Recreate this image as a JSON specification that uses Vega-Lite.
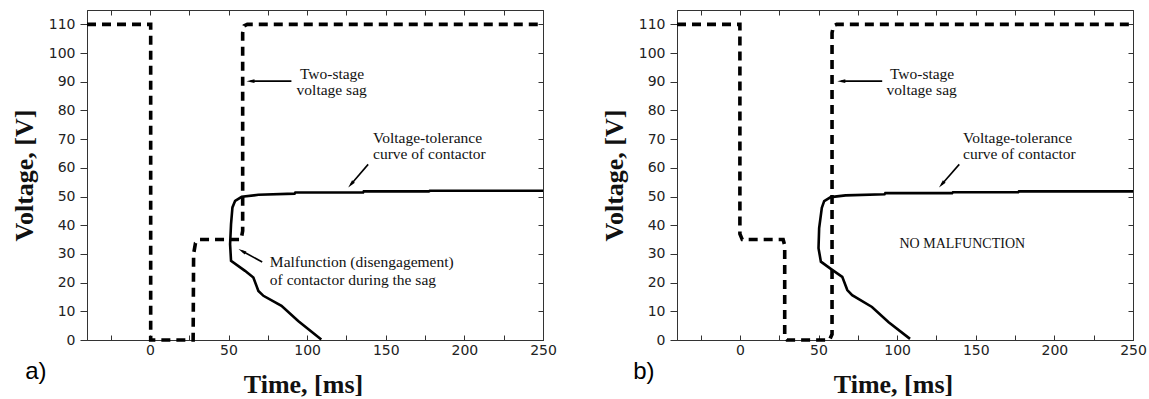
{
  "$schema": "https://vega.github.io/schema/vega-lite/v6.json",
  "background": "white",
  "padding": {"left": 10, "top": 9, "right": 5, "bottom": 0},
  "spacing": 43,
  "config": {
    "view": {"stroke": "#333", "strokeWidth": 1},
    "axis": {
      "grid": false,
      "domainColor": "#333",
      "tickColor": "#333",
      "labelFont": "DejaVu Sans",
      "labelFontSize": 14,
      "labelColor": "#222",
      "labelFlush": false,
      "titleFont": "Liberation Serif",
      "titleFontSize": 26,
      "titleFontWeight": "bold",
      "titleColor": "#111"
    }
  },
  "datasets": {
    "curves": [
      {"panel": "a", "series": "sag", "i": 1, "t": -40, "v": 110},
      {"panel": "a", "series": "sag", "i": 2, "t": 0.5, "v": 110},
      {"panel": "a", "series": "sag", "i": 3, "t": 0.5, "v": 0},
      {"panel": "a", "series": "sag", "i": 4, "t": 27.5, "v": 0},
      {"panel": "a", "series": "sag", "i": 5, "t": 27.8, "v": 30},
      {"panel": "a", "series": "sag", "i": 6, "t": 29, "v": 33.8},
      {"panel": "a", "series": "sag", "i": 7, "t": 31, "v": 35},
      {"panel": "a", "series": "sag", "i": 8, "t": 58, "v": 35},
      {"panel": "a", "series": "sag", "i": 9, "t": 59, "v": 38},
      {"panel": "a", "series": "sag", "i": 10, "t": 59, "v": 107},
      {"panel": "a", "series": "sag", "i": 11, "t": 60, "v": 109.5},
      {"panel": "a", "series": "sag", "i": 12, "t": 62, "v": 110},
      {"panel": "a", "series": "sag", "i": 13, "t": 250, "v": 110},
      {"panel": "a", "series": "tol", "i": 1, "t": 109, "v": 0.2},
      {"panel": "a", "series": "tol", "i": 2, "t": 94.3, "v": 6.6},
      {"panel": "a", "series": "tol", "i": 3, "t": 83.7, "v": 11.9},
      {"panel": "a", "series": "tol", "i": 4, "t": 72.2, "v": 15.4},
      {"panel": "a", "series": "tol", "i": 5, "t": 69, "v": 17.1},
      {"panel": "a", "series": "tol", "i": 6, "t": 65.8, "v": 21.8},
      {"panel": "a", "series": "tol", "i": 7, "t": 60.5, "v": 24.1},
      {"panel": "a", "series": "tol", "i": 8, "t": 51.6, "v": 27.6},
      {"panel": "a", "series": "tol", "i": 9, "t": 51, "v": 33.4},
      {"panel": "a", "series": "tol", "i": 10, "t": 51.6, "v": 40.4},
      {"panel": "a", "series": "tol", "i": 11, "t": 52.5, "v": 46.2},
      {"panel": "a", "series": "tol", "i": 12, "t": 54.2, "v": 48.5},
      {"panel": "a", "series": "tol", "i": 13, "t": 58.4, "v": 49.9},
      {"panel": "a", "series": "tol", "i": 14, "t": 69, "v": 50.6},
      {"panel": "a", "series": "tol", "i": 15, "t": 92, "v": 51},
      {"panel": "a", "series": "tol", "i": 16, "t": 92.5, "v": 51.4},
      {"panel": "a", "series": "tol", "i": 17, "t": 135.6, "v": 51.4},
      {"panel": "a", "series": "tol", "i": 18, "t": 136, "v": 51.8},
      {"panel": "a", "series": "tol", "i": 19, "t": 177.4, "v": 51.8},
      {"panel": "a", "series": "tol", "i": 20, "t": 178, "v": 52},
      {"panel": "a", "series": "tol", "i": 21, "t": 250, "v": 52},
      {"panel": "b", "series": "sag", "i": 1, "t": -40, "v": 110},
      {"panel": "b", "series": "sag", "i": 2, "t": 0, "v": 110},
      {"panel": "b", "series": "sag", "i": 3, "t": 0, "v": 37},
      {"panel": "b", "series": "sag", "i": 4, "t": 1.5, "v": 35},
      {"panel": "b", "series": "sag", "i": 5, "t": 27.5, "v": 35},
      {"panel": "b", "series": "sag", "i": 6, "t": 28.5, "v": 33},
      {"panel": "b", "series": "sag", "i": 7, "t": 28.5, "v": 1},
      {"panel": "b", "series": "sag", "i": 8, "t": 30, "v": 0},
      {"panel": "b", "series": "sag", "i": 9, "t": 57, "v": 0},
      {"panel": "b", "series": "sag", "i": 10, "t": 58.6, "v": 2},
      {"panel": "b", "series": "sag", "i": 11, "t": 58.6, "v": 107},
      {"panel": "b", "series": "sag", "i": 12, "t": 59.5, "v": 109.5},
      {"panel": "b", "series": "sag", "i": 13, "t": 61.5, "v": 110},
      {"panel": "b", "series": "sag", "i": 14, "t": 250, "v": 110},
      {"panel": "b", "series": "tol", "i": 1, "t": 108.2, "v": 0.4},
      {"panel": "b", "series": "tol", "i": 2, "t": 94.6, "v": 6.2},
      {"panel": "b", "series": "tol", "i": 3, "t": 84, "v": 11.5},
      {"panel": "b", "series": "tol", "i": 4, "t": 71.4, "v": 15.6},
      {"panel": "b", "series": "tol", "i": 5, "t": 68.3, "v": 17.4},
      {"panel": "b", "series": "tol", "i": 6, "t": 65.1, "v": 22},
      {"panel": "b", "series": "tol", "i": 7, "t": 57.8, "v": 24.8},
      {"panel": "b", "series": "tol", "i": 8, "t": 51.5, "v": 27.3},
      {"panel": "b", "series": "tol", "i": 9, "t": 50, "v": 32},
      {"panel": "b", "series": "tol", "i": 10, "t": 50.4, "v": 39},
      {"panel": "b", "series": "tol", "i": 11, "t": 52.1, "v": 46.1},
      {"panel": "b", "series": "tol", "i": 12, "t": 53.6, "v": 48.4},
      {"panel": "b", "series": "tol", "i": 13, "t": 57.8, "v": 49.8},
      {"panel": "b", "series": "tol", "i": 14, "t": 67.2, "v": 50.4},
      {"panel": "b", "series": "tol", "i": 15, "t": 92, "v": 50.8},
      {"panel": "b", "series": "tol", "i": 16, "t": 92.5, "v": 51.2},
      {"panel": "b", "series": "tol", "i": 17, "t": 135, "v": 51.2},
      {"panel": "b", "series": "tol", "i": 18, "t": 135.5, "v": 51.5},
      {"panel": "b", "series": "tol", "i": 19, "t": 177, "v": 51.5},
      {"panel": "b", "series": "tol", "i": 20, "t": 177.5, "v": 51.8},
      {"panel": "b", "series": "tol", "i": 21, "t": 250, "v": 51.8}
    ],
    "arrows": [
      {"panel": "a", "id": "sag", "t": 90, "v": 90.2, "t2": 64, "v2": 90.2},
      {"panel": "a", "id": "tol", "t": 138.8, "v": 61.2, "t2": 127.8, "v2": 54.2},
      {"panel": "a", "id": "mal", "t": 71.4, "v": 27.2, "t2": 58.6, "v2": 31},
      {"panel": "b", "id": "sag", "t": 90.5, "v": 90.2, "t2": 64.5, "v2": 90.2},
      {"panel": "b", "id": "tol", "t": 139.5, "v": 61.2, "t2": 128.3, "v2": 54.2}
    ],
    "notes": [
      {"panel": "a", "t": 95.4, "v": 92.6, "label": "Two-stage"},
      {"panel": "a", "t": 93.3, "v": 87.0, "label": "voltage sag"},
      {"panel": "a", "t": 141.9, "v": 70.4, "label": "Voltage-tolerance"},
      {"panel": "a", "t": 141.9, "v": 64.8, "label": "curve of contactor"},
      {"panel": "a", "t": 76.3, "v": 27.2, "label": "Malfunction (disengagement)"},
      {"panel": "a", "t": 76.3, "v": 20.8, "label": "of contactor during the sag"},
      {"panel": "b", "t": 95.4, "v": 92.6, "label": "Two-stage"},
      {"panel": "b", "t": 93.3, "v": 87.0, "label": "voltage sag"},
      {"panel": "b", "t": 141.9, "v": 70.4, "label": "Voltage-tolerance"},
      {"panel": "b", "t": 141.9, "v": 64.8, "label": "curve of contactor"}
    ],
    "caps": [
      {"panel": "b", "t": 101.5, "v": 33.3, "label": "NO MALFUNCTION"}
    ],
    "tags": [
      {"panel": "a", "t": -79.3, "v": -11.1, "label": "a)"},
      {"panel": "b", "t": -67.9, "v": -11.1, "label": "b)"}
    ]
  },
  "hconcat": [
    {
      "width": 456,
      "height": 330,
      "resolve": {"axis": {"x": "independent", "y": "independent"}},
      "layer": [
        {
          "data": {"name": "curves"},
          "transform": [{"filter": "datum.panel == 'a' && datum.series == 'tol'"}],
          "mark": {"type": "line", "color": "#000", "strokeWidth": 2.6},
          "encoding": {
            "x": {"field": "t", "type": "quantitative", "scale": {"domain": [-40, 250], "nice": false, "zero": false},
              "axis": {"orient": "bottom", "values": [-25, 0, 25, 50, 75, 100, 125, 150, 175, 200, 225, 250], "labelExpr": "datum.value % 50 == 0 ? datum.label : ''", "tickSize": -5, "labelPadding": 8, "title": "Time, [ms]", "titleX": 216, "titleY": 44, "titleBaseline": "middle", "titleAlign": "center"}},
            "y": {"field": "v", "type": "quantitative", "scale": {"domain": [0, 115], "nice": false},
              "axis": {"orient": "left", "values": [0, 10, 20, 30, 40, 50, 60, 70, 80, 90, 100, 110], "tickSize": 7, "labelPadding": 5, "title": "Voltage, [V]", "titleX": -63, "titleY": 165, "titleAngle": -90, "titleBaseline": "middle", "titleAlign": "center"}},
            "order": {"field": "i", "type": "quantitative"}
          }
        },
        {
          "data": {"name": "curves"},
          "transform": [{"filter": "datum.panel == 'a' && datum.series == 'sag'"}],
          "mark": {"type": "line", "color": "#000", "strokeWidth": 3.6, "strokeDash": [9, 6]},
          "encoding": {
            "x": {"field": "t", "type": "quantitative",
              "axis": {"orient": "top", "values": [-25, 0, 25, 50, 75, 100, 125, 150, 175, 200, 225, 250], "labels": false, "tickSize": -5, "title": null}},
            "y": {"field": "v", "type": "quantitative",
              "axis": {"orient": "right", "values": [0, 10, 20, 30, 40, 50, 60, 70, 80, 90, 100, 110], "labels": false, "tickSize": -5, "title": null}},
            "order": {"field": "i", "type": "quantitative"}
          }
        },
        {
          "data": {"name": "arrows"},
          "transform": [{"filter": "datum.panel == 'a'"}],
          "mark": {"type": "rule", "color": "#000", "strokeWidth": 1.6},
          "encoding": {
            "x": {"field": "t", "type": "quantitative", "axis": null},
            "y": {"field": "v", "type": "quantitative", "axis": null},
            "x2": {"field": "t2"},
            "y2": {"field": "v2"}
          }
        },
        {
          "data": {"name": "arrows"},
          "transform": [{"filter": "datum.panel == 'a' && datum.id == 'sag'"}],
          "mark": {"type": "point", "shape": "M0,-1L0.45,1L-0.45,1Z", "filled": true, "color": "#000", "opacity": 1, "size": 64, "angle": 270},
          "encoding": {
            "x": {"field": "t2", "type": "quantitative", "axis": null},
            "y": {"field": "v2", "type": "quantitative", "axis": null}
          }
        },
        {
          "data": {"name": "arrows"},
          "transform": [{"filter": "datum.panel == 'a' && datum.id == 'tol'"}],
          "mark": {"type": "point", "shape": "M0,-1L0.45,1L-0.45,1Z", "filled": true, "color": "#000", "opacity": 1, "size": 64, "angle": 221},
          "encoding": {
            "x": {"field": "t2", "type": "quantitative", "axis": null},
            "y": {"field": "v2", "type": "quantitative", "axis": null}
          }
        },
        {
          "data": {"name": "arrows"},
          "transform": [{"filter": "datum.panel == 'a' && datum.id == 'mal'"}],
          "mark": {"type": "point", "shape": "M0,-1L0.45,1L-0.45,1Z", "filled": true, "color": "#000", "opacity": 1, "size": 64, "angle": 299},
          "encoding": {
            "x": {"field": "t2", "type": "quantitative", "axis": null},
            "y": {"field": "v2", "type": "quantitative", "axis": null}
          }
        },
        {
          "data": {"name": "notes"},
          "transform": [{"filter": "datum.panel == 'a'"}],
          "mark": {"type": "text", "font": "Liberation Serif", "fontSize": 15.5, "align": "left", "baseline": "middle", "color": "#111"},
          "encoding": {
            "x": {"field": "t", "type": "quantitative", "axis": null},
            "y": {"field": "v", "type": "quantitative", "axis": null},
            "text": {"field": "label"}
          }
        },
        {
          "data": {"name": "tags"},
          "transform": [{"filter": "datum.panel == 'a'"}],
          "mark": {"type": "text", "font": "Liberation Sans", "fontSize": 24, "align": "left", "baseline": "middle", "color": "#000"},
          "encoding": {
            "x": {"field": "t", "type": "quantitative", "axis": null},
            "y": {"field": "v", "type": "quantitative", "axis": null},
            "text": {"field": "label"}
          }
        }
      ]
    },
    {
      "width": 456,
      "height": 330,
      "resolve": {"axis": {"x": "independent", "y": "independent"}},
      "layer": [
        {
          "data": {"name": "curves"},
          "transform": [{"filter": "datum.panel == 'b' && datum.series == 'tol'"}],
          "mark": {"type": "line", "color": "#000", "strokeWidth": 2.6},
          "encoding": {
            "x": {"field": "t", "type": "quantitative", "scale": {"domain": [-40, 250], "nice": false, "zero": false},
              "axis": {"orient": "bottom", "values": [-25, 0, 25, 50, 75, 100, 125, 150, 175, 200, 225, 250], "labelExpr": "datum.value % 50 == 0 ? datum.label : ''", "tickSize": -5, "labelPadding": 8, "title": "Time, [ms]", "titleX": 216, "titleY": 44, "titleBaseline": "middle", "titleAlign": "center"}},
            "y": {"field": "v", "type": "quantitative", "scale": {"domain": [0, 115], "nice": false},
              "axis": {"orient": "left", "values": [0, 10, 20, 30, 40, 50, 60, 70, 80, 90, 100, 110], "tickSize": 7, "labelPadding": 5, "title": "Voltage, [V]", "titleX": -63, "titleY": 165, "titleAngle": -90, "titleBaseline": "middle", "titleAlign": "center"}},
            "order": {"field": "i", "type": "quantitative"}
          }
        },
        {
          "data": {"name": "curves"},
          "transform": [{"filter": "datum.panel == 'b' && datum.series == 'sag'"}],
          "mark": {"type": "line", "color": "#000", "strokeWidth": 3.6, "strokeDash": [9, 6]},
          "encoding": {
            "x": {"field": "t", "type": "quantitative",
              "axis": {"orient": "top", "values": [-25, 0, 25, 50, 75, 100, 125, 150, 175, 200, 225, 250], "labels": false, "tickSize": -5, "title": null}},
            "y": {"field": "v", "type": "quantitative",
              "axis": {"orient": "right", "values": [0, 10, 20, 30, 40, 50, 60, 70, 80, 90, 100, 110], "labels": false, "tickSize": -5, "title": null}},
            "order": {"field": "i", "type": "quantitative"}
          }
        },
        {
          "data": {"name": "arrows"},
          "transform": [{"filter": "datum.panel == 'b'"}],
          "mark": {"type": "rule", "color": "#000", "strokeWidth": 1.6},
          "encoding": {
            "x": {"field": "t", "type": "quantitative", "axis": null},
            "y": {"field": "v", "type": "quantitative", "axis": null},
            "x2": {"field": "t2"},
            "y2": {"field": "v2"}
          }
        },
        {
          "data": {"name": "arrows"},
          "transform": [{"filter": "datum.panel == 'b' && datum.id == 'sag'"}],
          "mark": {"type": "point", "shape": "M0,-1L0.45,1L-0.45,1Z", "filled": true, "color": "#000", "opacity": 1, "size": 64, "angle": 270},
          "encoding": {
            "x": {"field": "t2", "type": "quantitative", "axis": null},
            "y": {"field": "v2", "type": "quantitative", "axis": null}
          }
        },
        {
          "data": {"name": "arrows"},
          "transform": [{"filter": "datum.panel == 'b' && datum.id == 'tol'"}],
          "mark": {"type": "point", "shape": "M0,-1L0.45,1L-0.45,1Z", "filled": true, "color": "#000", "opacity": 1, "size": 64, "angle": 221},
          "encoding": {
            "x": {"field": "t2", "type": "quantitative", "axis": null},
            "y": {"field": "v2", "type": "quantitative", "axis": null}
          }
        },
        {
          "data": {"name": "notes"},
          "transform": [{"filter": "datum.panel == 'b'"}],
          "mark": {"type": "text", "font": "Liberation Serif", "fontSize": 15.5, "align": "left", "baseline": "middle", "color": "#111"},
          "encoding": {
            "x": {"field": "t", "type": "quantitative", "axis": null},
            "y": {"field": "v", "type": "quantitative", "axis": null},
            "text": {"field": "label"}
          }
        },
        {
          "data": {"name": "caps"},
          "mark": {"type": "text", "font": "Liberation Serif", "fontSize": 14, "align": "left", "baseline": "middle", "color": "#111"},
          "encoding": {
            "x": {"field": "t", "type": "quantitative", "axis": null},
            "y": {"field": "v", "type": "quantitative", "axis": null},
            "text": {"field": "label"}
          }
        },
        {
          "data": {"name": "tags"},
          "transform": [{"filter": "datum.panel == 'b'"}],
          "mark": {"type": "text", "font": "Liberation Sans", "fontSize": 24, "align": "left", "baseline": "middle", "color": "#000"},
          "encoding": {
            "x": {"field": "t", "type": "quantitative", "axis": null},
            "y": {"field": "v", "type": "quantitative", "axis": null},
            "text": {"field": "label"}
          }
        }
      ]
    }
  ]
}
